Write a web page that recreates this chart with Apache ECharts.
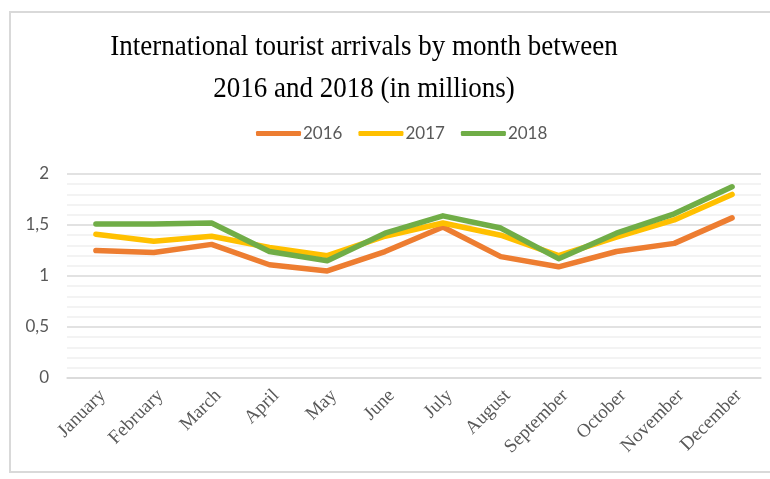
<!DOCTYPE html>
<html>
<head>
<meta charset="utf-8">
<style>
  html, body { margin: 0; padding: 0; background: #fff; }
  #chart { width: 770px; height: 479px; }
</style>
<script src="https://cdn.jsdelivr.net/npm/echarts@6/dist/echarts.min.js"></script>
</head>
<body>
<div id="chart"></div>
<script>
// Monthly arrivals, millions
const months = ['January', 'February', 'March', 'April', 'May', 'June',
  'July', 'August', 'September', 'October', 'November', 'December'];
const arrivals2016 = [1.25, 1.23, 1.31, 1.11, 1.05, 1.24, 1.48, 1.19, 1.09, 1.24, 1.32, 1.57];
const arrivals2017 = [1.41, 1.34, 1.39, 1.28, 1.20, 1.39, 1.52, 1.40, 1.20, 1.38, 1.55, 1.80];
const arrivals2018 = [1.51, 1.51, 1.52, 1.24, 1.15, 1.42, 1.59, 1.47, 1.17, 1.42, 1.61, 1.875];
const titleLines = ['International tourist arrivals by month between', '2016 and 2018 (in millions)'];

const chart = echarts.init(document.getElementById('chart'), null, { renderer: 'canvas' });

function lineSeries(name, data, color) {
  return {
    name: name,
    type: 'line',
    data: data,
    symbol: 'none',
    lineStyle: { width: 5.5, color: color, cap: 'round', join: 'round' },
    itemStyle: { color: color },
    emphasis: { disabled: true }
  };
}

function titleLine(text, bottomY) {
  return {
    type: 'text', x: 364, y: bottomY, scaleY: 1.12,
    style: { text: text, font: '27px "Liberation Serif"', fill: '#000',
      textAlign: 'center', textVerticalAlign: 'bottom' },
    silent: true
  };
}

chart.setOption({
  animation: false,
  backgroundColor: '#fff',
  graphic: [
    {
      type: 'rect',
      shape: { x: 10, y: 12, width: 762, height: 460 },
      style: { fill: 'none', stroke: '#d9d9d9', lineWidth: 2 },
      silent: true
    },
    titleLine(titleLines[0], 62),
    titleLine(titleLines[1], 104)
  ],
  legend: {
    left: 251,
    top: 120,
    icon: 'roundRect',
    itemWidth: 45,
    itemHeight: 5,
    itemGap: 16,
    textStyle: { color: '#595959', fontSize: 17, fontFamily: 'Lato', padding: [0, 0, 0, -3] },
    data: ['2016', '2017', '2018']
  },
  grid: { left: 67, right: 9, top: 174, bottom: 101, containLabel: false },
  xAxis: {
    type: 'category',
    data: months,
    boundaryGap: true,
    axisLine: { show: true, lineStyle: { color: '#d9d9d9', width: 1.5 } },
    axisTick: { show: false },
    axisLabel: {
      rotate: 45,
      interval: 0,
      margin: 8,
      color: '#595959',
      fontSize: 19,
      fontFamily: 'Liberation Serif',
      verticalAlign: 'top'
    },
    splitLine: { show: false }
  },
  yAxis: {
    type: 'value',
    min: 0,
    max: 2,
    interval: 0.5,
    axisLine: { show: false },
    axisTick: { show: false },
    axisLabel: {
      margin: 18,
      color: '#595959',
      fontSize: 17,
      fontFamily: 'Lato',
      formatter: v => String(v).replace('.', ',')
    },
    splitLine: { show: true, lineStyle: { color: '#d9d9d9', width: 1.5 } },
    minorTick: { show: false, splitNumber: 5 },
    minorSplitLine: { show: true, lineStyle: { color: '#efefef', width: 1.5 } }
  },
  series: [
    lineSeries('2016', arrivals2016, '#ED7D31'),
    lineSeries('2017', arrivals2017, '#FFC000'),
    lineSeries('2018', arrivals2018, '#70AD47')
  ]
});
</script>
</body>
</html>
